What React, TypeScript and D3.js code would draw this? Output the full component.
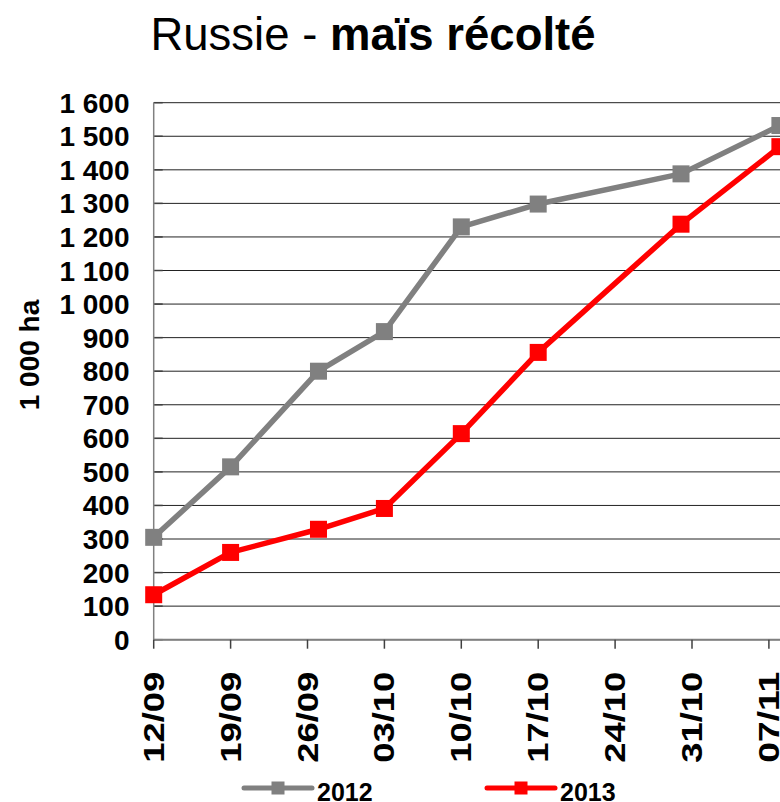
import React from 'react';
import * as d3 from 'd3';

// harvest survey dates (points are not always on the weekly ticks)
const surveyDates = ['2013-09-12', '2013-09-19', '2013-09-27', '2013-10-03', '2013-10-10', '2013-10-17', '2013-10-30', '2013-11-08'];
const harvested2012 = [305, 515, 800, 918, 1230, 1298, 1388, 1532];
const harvested2013 = [134, 260, 329, 391, 614, 856, 1238, 1469];

const tickDates = ['2013-09-12', '2013-09-19', '2013-09-26', '2013-10-03', '2013-10-10', '2013-10-17', '2013-10-24', '2013-10-31', '2013-11-07'];
const yTicks = [0, 100, 200, 300, 400, 500, 600, 700, 800, 900, 1000, 1100, 1200, 1300, 1400, 1500, 1600];

const seriesNames = ['2012', '2013'];
const seriesColors = ['#808080', '#ff0000'];

const FONT = '"Liberation Sans", Arial, sans-serif';
const W = 780;
const H = 802;

const parse = d3.timeParse('%Y-%m-%d');
const fmtDate = d3.timeFormat('%d/%m');
const fmtNum = (v: number) => d3.format(',')(v).replace(',', ' ');

export default function App() {
  const x = d3.scaleTime()
    .domain([parse('2013-09-12') as Date, parse('2013-11-14') as Date])
    .range([153.7, 845.8]);
  const y = d3.scaleLinear().domain([0, 1600]).range([639.7, 102.7]);

  const series = [harvested2012, harvested2013].map((vals, i) => ({
    name: seriesNames[i],
    color: seriesColors[i],
    points: vals.map((v, j) => ({ date: parse(surveyDates[j]) as Date, v })),
  }));

  const line = d3.line<{ date: Date; v: number }>()
    .x(d => x(d.date))
    .y(d => y(d.v));

  const x0 = x.range()[0];
  const y0 = y(0);
  const ms = 17;

  return (
    <div style={{ position: 'absolute', left: 0, top: 0 }}>
      <svg width={W} height={H} style={{ display: 'block', background: '#fff' }} fontFamily={FONT}>
        {/* title */}
        <text x={373} y={50} textAnchor="middle" fontSize={45.5} fill="#000">
          Russie - <tspan fontWeight="bold">maïs récolté</tspan>
        </text>

        {/* gridlines */}
        {yTicks.map(t => (
          <line key={'g' + t} x1={x0} x2={W} y1={y(t)} y2={y(t)} stroke="#222" strokeWidth={1} />
        ))}
        {/* inward y ticks */}
        {yTicks.map(t => (
          <line key={'yt' + t} x1={x0} x2={x0 + 9} y1={y(t)} y2={y(t)} stroke="#404040" strokeWidth={1.5} />
        ))}
        {/* y labels */}
        {yTicks.map(t => (
          <text key={'yl' + t} x={129.5} y={y(t) + 10} textAnchor="end" fontSize={28} fontWeight="bold" fill="#000">
            {fmtNum(t)}
          </text>
        ))}
        {/* y axis title */}
        <text transform={`translate(39,355) rotate(-90)`} textAnchor="middle" fontSize={28} fontWeight="bold" fill="#000">
          1 000 ha
        </text>

        {/* axes */}
        <line x1={x0} x2={x0} y1={y(1600)} y2={y0} stroke="#808080" strokeWidth={1.5} />
        <line x1={x0} x2={W} y1={y0} y2={y0} stroke="#808080" strokeWidth={2} />
        {tickDates.map(s => {
          const d = parse(s) as Date;
          return (
            <g key={'xt' + s} transform={`translate(${x(d)},0)`}>
              <line y1={y0} y2={y0 + 9} stroke="#404040" strokeWidth={1.5} />
              <text
                transform={`translate(10,${y0 + 32}) rotate(-90)`}
                textAnchor="end"
                fontSize={30}
                fontWeight="bold"
                fill="#000"
                textLength={91}
                lengthAdjust="spacingAndGlyphs"
              >
                {fmtDate(d)}
              </text>
            </g>
          );
        })}

        {/* series */}
        {series.map(s => (
          <g key={s.name}>
            <path d={line(s.points) || ''} fill="none" stroke={s.color} strokeWidth={5.5} strokeLinejoin="round" />
            {s.points.map((p, j) => (
              <rect key={j} x={x(p.date) - ms / 2} y={y(p.v) - ms / 2} width={ms} height={ms} fill={s.color} />
            ))}
          </g>
        ))}

        {/* legend */}
        {series.map((s, i) => {
          const lx = [244, 487][i];
          return (
            <g key={'lg' + s.name} transform={`translate(${lx},788)`}>
              <line x1={0} x2={68} y1={0} y2={0} stroke={s.color} strokeWidth={5} strokeLinecap="round" />
              <rect x={34 - 6.5} y={-6.5} width={13} height={13} fill={s.color} />
              <text x={73} y={13} fontSize={25} fontWeight="bold" fill="#000">{s.name}</text>
            </g>
          );
        })}
      </svg>
    </div>
  );
}
